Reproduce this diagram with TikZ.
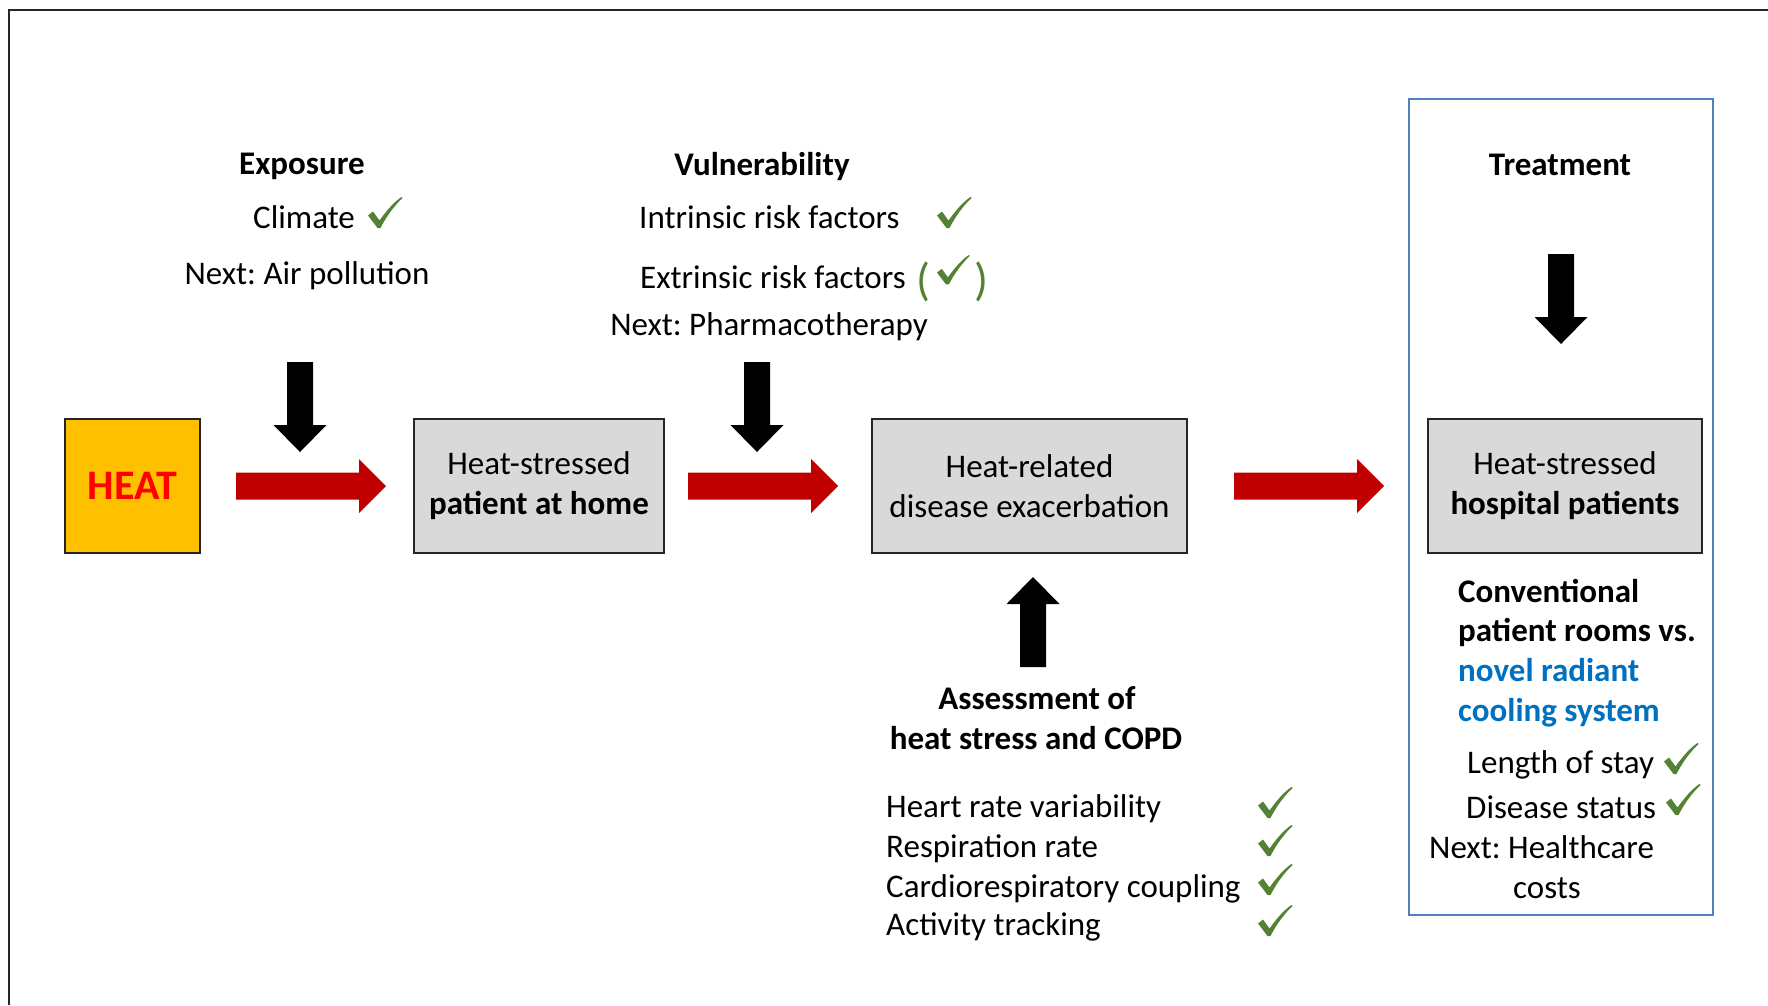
\documentclass[tikz,border=0pt]{standalone}
\usepackage{fontspec}
\setmainfont{Carlito}
\frenchspacing
\definecolor{heatfill}{RGB}{255,192,0}
\definecolor{boxgray}{RGB}{217,217,217}
\definecolor{redarrow}{RGB}{192,0,0}
\definecolor{heatred}{RGB}{255,0,0}
\definecolor{chkgreen}{RGB}{84,130,53}
\definecolor{frameblue}{RGB}{79,129,189}
\definecolor{textblue}{RGB}{0,112,192}
\tikzset{
  txt/.style={inner sep=0pt, font=\fontsize{33}{40}\selectfont},
  btxt/.style={inner sep=0pt, font=\fontsize{33}{40}\selectfont\bfseries},
  procbox/.style={draw=black!85, line width=2pt, fill=boxgray, minimum height=134pt,
    align=center, inner sep=0pt, font=\fontsize{33}{40}\selectfont},
  redarr/.pic={\fill[redarrow] (0,-13.5) -- (123,-13.5) -- (123,-27) -- (150,0) -- (123,27) -- (123,13.5) -- (0,13.5) -- cycle;},
  downarr/.pic={\fill[black] (-13,0) -- (13,0) -- (13,63) -- (26.5,63) -- (0,90) -- (-26.5,63) -- (-13,63) -- cycle;},
  ckshape/.pic={\fill[chkgreen] (0,18.5) -- (5,14.5) -- (11.5,23.5) .. controls (19,13) and (26,5) .. (33.5,0) -- (34.5,1)
     .. controls (26,9) and (18,20) .. (12.5,31) -- (9.5,31) -- cycle;}
}
\begin{document}
\begin{tikzpicture}[x=1pt,y=-1pt]
\useasboundingbox (0,0) rectangle (1768,1005);
\fill[white] (0,0) rectangle (1768,1005);
% outer frame lines
\draw[line width=2.5pt, black!85] (9,1005) -- (9,10) -- (1768,10);
% treatment panel
\node[draw=frameblue, line width=2.5pt, minimum width=304pt, minimum height=816pt, inner sep=0pt] (panel) at (1561,507) {};

% main boxes
\node[draw=black!85, line width=2pt, fill=heatfill, minimum width=135pt, minimum height=134pt, inner sep=0pt,
  text=heatred, font=\fontsize{42}{42}\selectfont\bfseries] (heat) at (132.5,486) {HEAT};
\node[procbox, minimum width=250pt] (home) at (539,486) {Heat-stressed\\\textbf{patient at home}};
\node[procbox, minimum width=315pt] (exac) at (1029.5,486) {Heat-related\\disease exacerbation};
\node[procbox, minimum width=274pt] (hosp) at (1565,486) {Heat-stressed\\\textbf{hospital patients}};

% red block arrows
\coordinate (ra1) at (236,486);
\coordinate (ra2) at (688,486);
\coordinate (ra3) at (1234,486);
\pic at (ra1) {redarr};
\pic at (ra2) {redarr};
\pic at (ra3) {redarr};

% black block arrows
\coordinate (da1) at (300,362);
\coordinate (da2) at (757,362);
\coordinate (da3) at (1561,254);
\coordinate (ua1) at (1033,667);
\pic at (da1) {downarr};
\pic at (da2) {downarr};
\pic at (da3) {downarr};
\pic[rotate=180] at (ua1) {downarr};

% Exposure
\node[btxt, anchor=base] (expo) at (302,174) {Exposure};
\node[txt, anchor=base west] (clim) at (253,228) {Climate};
\coordinate (climck) at (368,197);
\pic at (climck) {ckshape};
\node[txt, anchor=base] (nextair) at (307,284) {Next: Air pollution};

% Vulnerability
\node[btxt, anchor=base] (vuln) at (762,175) {Vulnerability};
\node[txt, anchor=base west] (intr) at (639,228) {Intrinsic risk factors};
\coordinate (intrck) at (937,197);
\pic at (intrck) {ckshape};
\node[txt, anchor=base west] (extr) at (640,288) {Extrinsic risk factors};
\node[inner sep=0pt, text=chkgreen, font=\fontsize{46}{46}\selectfont, anchor=base west] (lpar) at (916,295) {(};
\node[inner sep=0pt, text=chkgreen, font=\fontsize{46}{46}\selectfont, anchor=base east] (rpar) at (989,295) {)};
\coordinate (extrck) at (937,255);
\pic[scale=0.95] at (extrck) {ckshape};
\node[txt, anchor=base] (pharma) at (769,335) {Next: Pharmacotherapy};

% Treatment
\node[btxt, anchor=base] (treat) at (1560,175) {Treatment};
\node[btxt, anchor=base west] (conv1) at (1458,602) {Conventional};
\node[btxt, anchor=base west] (conv2) at (1458,641) {patient rooms vs.};
\node[btxt, anchor=base west, text=textblue] (conv3) at (1458,681) {novel radiant};
\node[btxt, anchor=base west, text=textblue] (conv4) at (1458,721) {cooling system};
\node[txt, anchor=base west] (los) at (1467,773) {Length of stay};
\coordinate (losck) at (1664,743);
\pic at (losck) {ckshape};
\node[txt, anchor=base west] (dstat) at (1466,818) {Disease status};
\coordinate (dstatck) at (1666,784);
\pic at (dstatck) {ckshape};
\node[txt, anchor=base west] (nexthc) at (1429,858) {Next: Healthcare};
\node[txt, anchor=base] (costs) at (1547,898) {costs};

% Assessment
\node[btxt, anchor=base] (assess1) at (1037,709) {Assessment of};
\node[btxt, anchor=base] (assess2) at (1036,749) {heat stress and COPD};
\node[txt, anchor=base west] (hrv) at (886,817) {Heart rate variability};
\node[txt, anchor=base west] (resp) at (886,857) {Respiration rate};
\node[txt, anchor=base west] (crc) at (886,897) {Cardiorespiratory coupling};
\node[txt, anchor=base west] (act) at (886,935) {Activity tracking};
\coordinate (hrvck) at (1258,787);
\coordinate (respck) at (1258,825);
\coordinate (crcck) at (1258,864);
\coordinate (actck) at (1258,905);
\pic at (hrvck) {ckshape};
\pic at (respck) {ckshape};
\pic at (crcck) {ckshape};
\pic at (actck) {ckshape};
\end{tikzpicture}
\end{document}
